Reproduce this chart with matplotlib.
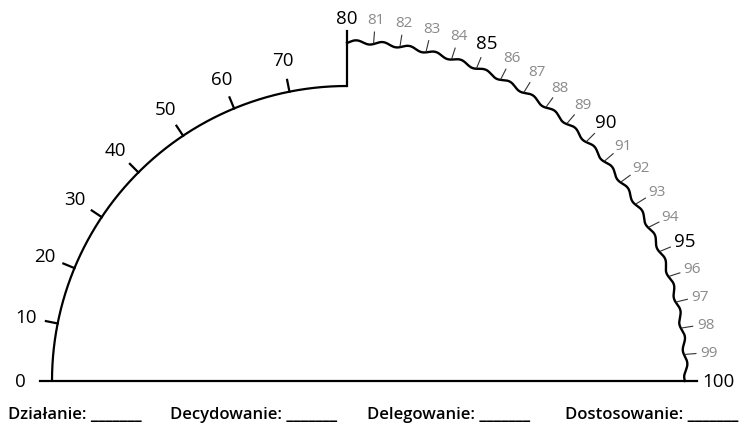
import numpy as np
import matplotlib.pyplot as plt

plt.rcParams['font.family'] = ['Open Sans', 'DejaVu Sans']

# scale values
left_ticks = [10, 20, 30, 40, 50, 60, 70]
left_labels = ['0', '10', '20', '30', '40', '50', '60', '70']
left_label_vals = [0, 10, 20, 30, 40, 50, 60, 70]
right_ticks = [81, 82, 83, 84, 85, 86, 87, 88, 89, 90, 91, 92, 93, 94, 95, 96, 97, 98, 99]
right_major = [85, 90, 95]
bottom_labels = ['Działanie: _______', 'Decydowanie: _______', 'Delegowanie: _______', 'Dostosowanie: _______']

cx, cy = 347, 382
r_in, r_out = 295, 339


def ang(v):
    if v <= 80:
        return np.radians(180 - v * 90 / 80)
    return np.radians(90 - (v - 80) * 4.5)


def pt(v, r):
    a = ang(v)
    return cx + r * np.cos(a), cy - r * np.sin(a)


fig = plt.figure(figsize=(7.47, 4.31), dpi=100)
ax = fig.add_axes([0, 0, 1, 1])
ax.set_xlim(0, 747)
ax.set_ylim(431, 0)
ax.axis('off')

# inner arc 0..80
v = np.linspace(0, 80, 400)
xs, ys = zip(*[pt(t, r_in) for t in v])
ax.plot(xs, ys, color='black', lw=1.6, solid_capstyle='butt')

# step at 80
ax.plot([cx, cx], [cy - r_in, 32], color='black', lw=1.6)

# wavy outer arc 80..100
v2 = np.linspace(80, 100, 2000)
rw = r_out + 1.8 * np.sin(2 * np.pi * (v2 - 80) - 0.6)
xs2 = cx + rw * np.cos(np.radians(90 - (v2 - 80) * 4.5))
ys2 = cy - rw * np.sin(np.radians(90 - (v2 - 80) * 4.5))
ax.plot(xs2, ys2, color='black', lw=1.7)

# baseline
ax.plot([40, 697], [cy, cy], color='black', lw=1.6)

# left ticks and labels
for t in left_ticks:
    (x0, y0), (x1, y1) = pt(t, r_in), pt(t, r_in + 12)
    ax.plot([x0, x1], [y0, y1], color='black', lw=1.6)
for t, lab in zip(left_label_vals, left_labels):
    x, y = pt(t, 327)
    ax.text(x, y, lab, ha='center', va='center', fontsize=13.5, color='black')
ax.text(cx, 19, '80', ha='center', va='center', fontsize=13.5, color='black')

# right ticks and labels
for t in right_ticks:
    (x0, y0), (x1, y1) = pt(t, r_out), pt(t, r_out + 11)
    ax.plot([x0, x1], [y0, y1], color='#333333', lw=0.8)
    if t in right_major:
        x, y = pt(t, 366)
        ax.text(x, y, str(t), ha='center', va='center', fontsize=13.5, color='black')
    else:
        x, y = pt(t, 363)
        ax.text(x, y, str(t), ha='center', va='center', fontsize=11, color='#8a8a8a')
ax.text(702, cy, '100', ha='left', va='center', fontsize=13.5, color='black')

# bottom fill-in labels
for x, lab in zip([8, 170, 367, 565], bottom_labels):
    ax.text(x, 415, lab, ha='left', va='center', fontsize=12, fontweight='semibold')

fig.savefig('out.png', dpi=100)
